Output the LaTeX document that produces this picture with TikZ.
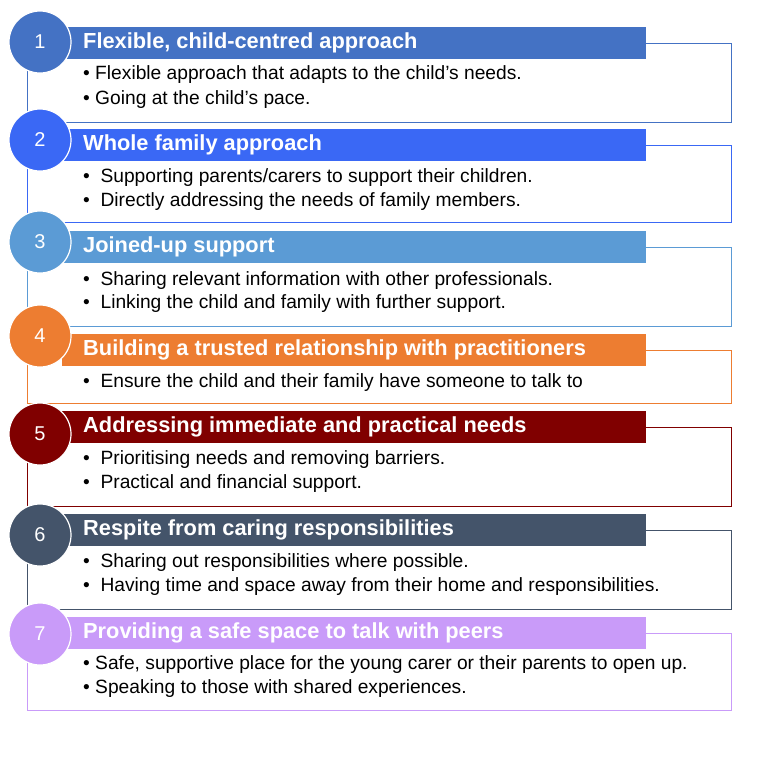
\documentclass[tikz,border=0pt]{standalone}
\usepackage{fontspec}
\setmainfont{Liberation Sans}
\begin{document}
\begin{tikzpicture}[x=1pt,y=-1pt,
  box/.style={draw=#1,line width=0.8pt},
  num/.style={circle,fill=#1,draw=white,line width=1.2pt,minimum size=62pt,text=white,font=\fontsize{20}{24}\selectfont},
  head/.style={anchor=west,text=white,font=\bfseries\fontsize{21.8}{25}\selectfont,inner sep=0pt},
  bul/.style={anchor=west,font=\fontsize{19.2}{22}\selectfont,inner sep=0pt}]
\definecolor{c1}{HTML}{4472C4}
\definecolor{c2}{HTML}{3A68F5}
\definecolor{c3}{HTML}{5B9BD5}
\definecolor{c4}{HTML}{ED7D31}
\definecolor{c5}{HTML}{800000}
\definecolor{c6}{HTML}{44546A}
\definecolor{c7}{HTML}{C99BF9}
\useasboundingbox[fill=white] (0,0) rectangle (766,756);
\foreach \c/\n/\t/\b/\cy/\h in {
 c1/1/27/122/42/{Flexible, child-centred approach},
 c2/2/129/222/140/{Whole family approach},
 c3/3/231/326/242/{Joined-up support},
 c4/4/334/403/336/{Building a trusted relationship with practitioners},
 c5/5/411/506/434/{Addressing immediate and practical needs},
 c6/6/514/609/535/{Respite from caring responsibilities},
 c7/7/617/710/634/{Providing a safe space to talk with peers}}{
  \draw[box=\c] (27,\t+16) rectangle (731,\b);
  \fill[\c] (62,\t) rectangle (646,\t+32);
  \node[num=\c] (n\n) at (40,\cy) {\n};
  \node[head] (h\n) at (83,\t+16) {\h};
}
\node[bul] (b11) at (83,75) {• Flexible approach that adapts to the child’s needs.};
\node[bul] (b12) at (83,100) {• Going at the child’s pace.};
\node[bul] (b21) at (83,178) {•\ \ Supporting parents/carers to support their children.};
\node[bul] (b22) at (83,202) {•\ \ Directly addressing the needs of family members.};
\node[bul] (b31) at (83,281) {•\ \ Sharing relevant information with other professionals.};
\node[bul] (b32) at (83,304) {•\ \ Linking the child and family with further support.};
\node[bul] (b41) at (83,383) {•\ \ Ensure the child and their family have someone to talk to};
\node[bul] (b51) at (83,460) {•\ \ Prioritising needs and removing barriers.};
\node[bul] (b52) at (83,484) {•\ \ Practical and financial support.};
\node[bul] (b61) at (83,563) {•\ \ Sharing out responsibilities where possible.};
\node[bul] (b62) at (83,587) {•\ \ Having time and space away from their home and responsibilities.};
\node[bul] (b71) at (83,665) {• Safe, supportive place for the young carer or their parents to open up.};
\node[bul] (b72) at (83,689) {• Speaking to those with shared experiences.};
\end{tikzpicture}
\end{document}
